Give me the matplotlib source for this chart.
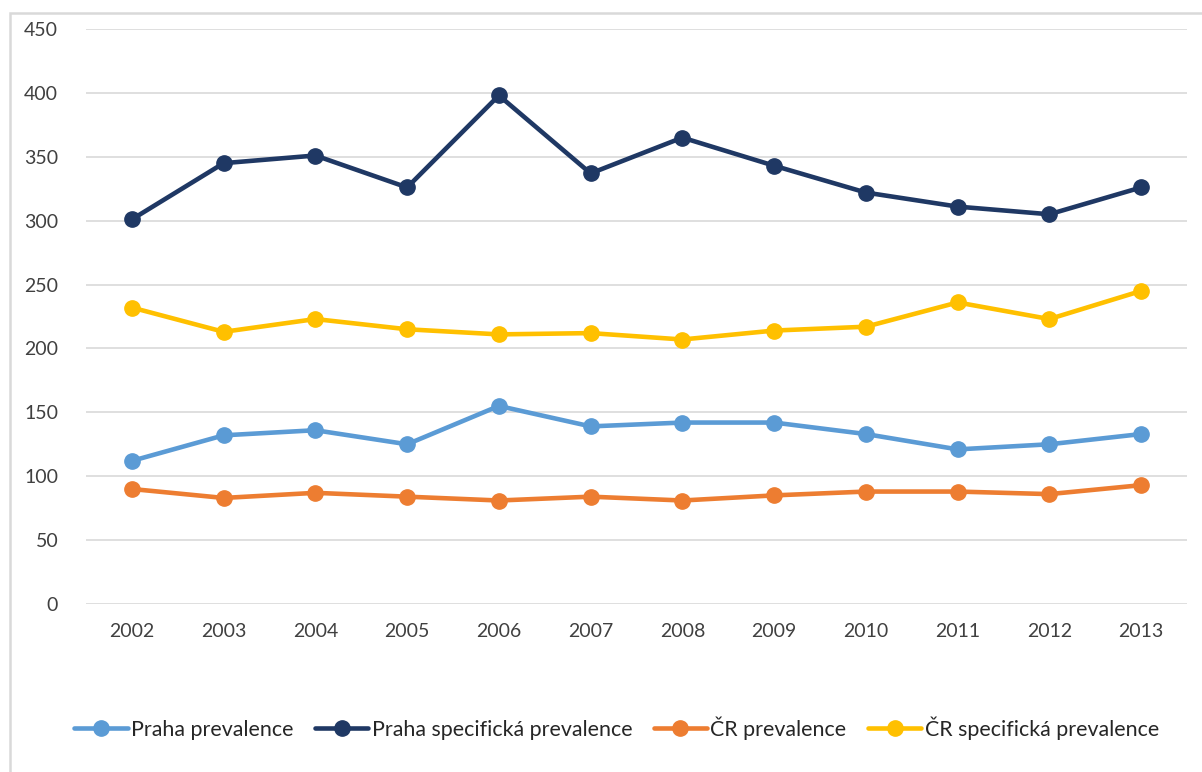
from matplotlib import pyplot as plt
from matplotlib.patches import Rectangle
import numpy as np

years = ["2002", "2003", "2004", "2005", "2006", "2007",
         "2008", "2009", "2010", "2011", "2012", "2013"]

praha_prev = [112, 132, 136, 125, 155, 139, 142, 142, 133, 121, 125, 133]
praha_spec = [301, 345, 351, 326, 398, 337, 365, 343, 322, 311, 305, 326]
cr_prev = [90, 83, 87, 84, 81, 84, 81, 85, 88, 88, 86, 93]
cr_spec = [232, 213, 223, 215, 211, 212, 207, 214, 217, 236, 223, 245]

labels = ["Praha prevalence", "Praha specifická prevalence",
          "ČR prevalence", "ČR specifická prevalence"]
colors = ["#5B9BD5", "#1F3864", "#ED7D31", "#FFC000"]

plt.rcParams['font.family'] = ['Lato', 'DejaVu Sans']

fig = plt.figure(figsize=(12.02, 7.72), dpi=100)
ax = fig.add_axes([86 / 1202, 1 - 604 / 772, (1187 - 86) / 1202, (604 - 29) / 772])

x = np.arange(len(years))
for series, label, color in zip([praha_prev, praha_spec, cr_prev, cr_spec], labels, colors):
    ax.plot(x, series, color=color, linewidth=3.3, marker="o", markersize=11,
            label=label, solid_capstyle="round")

ax.set_xlim(-0.5, len(years) - 0.5)
ax.set_ylim(0, 450)
ax.set_yticks(np.arange(0, 451, 50))
ax.set_xticks(x)
ax.set_xticklabels(years)
ax.grid(axis="y", color="#d9d9d9", linewidth=1.2)
ax.set_axisbelow(True)
for side in ["top", "right", "left", "bottom"]:
    ax.spines[side].set_visible(False)
ax.tick_params(axis="both", length=0, labelsize=14, colors="#404040")
ax.tick_params(axis="y", pad=20)
ax.tick_params(axis="x", pad=14)

leg = fig.legend(loc="center", bbox_to_anchor=(0.513, 1 - 728 / 772), ncol=4,
                 frameon=False, fontsize=15.4, handlelength=2.5, handletextpad=0.15,
                 columnspacing=1.0, labelcolor="#262626")

# chart frame (only the left and top edges are inside the picture)
fig.patches.append(Rectangle((10 / 1202, -0.1), 1.2, (772 - 13) / 772 + 0.1,
                             transform=fig.transFigure, fill=False,
                             edgecolor="#d9d9d9", linewidth=1.8))

fig.savefig("out.png", dpi=100)
